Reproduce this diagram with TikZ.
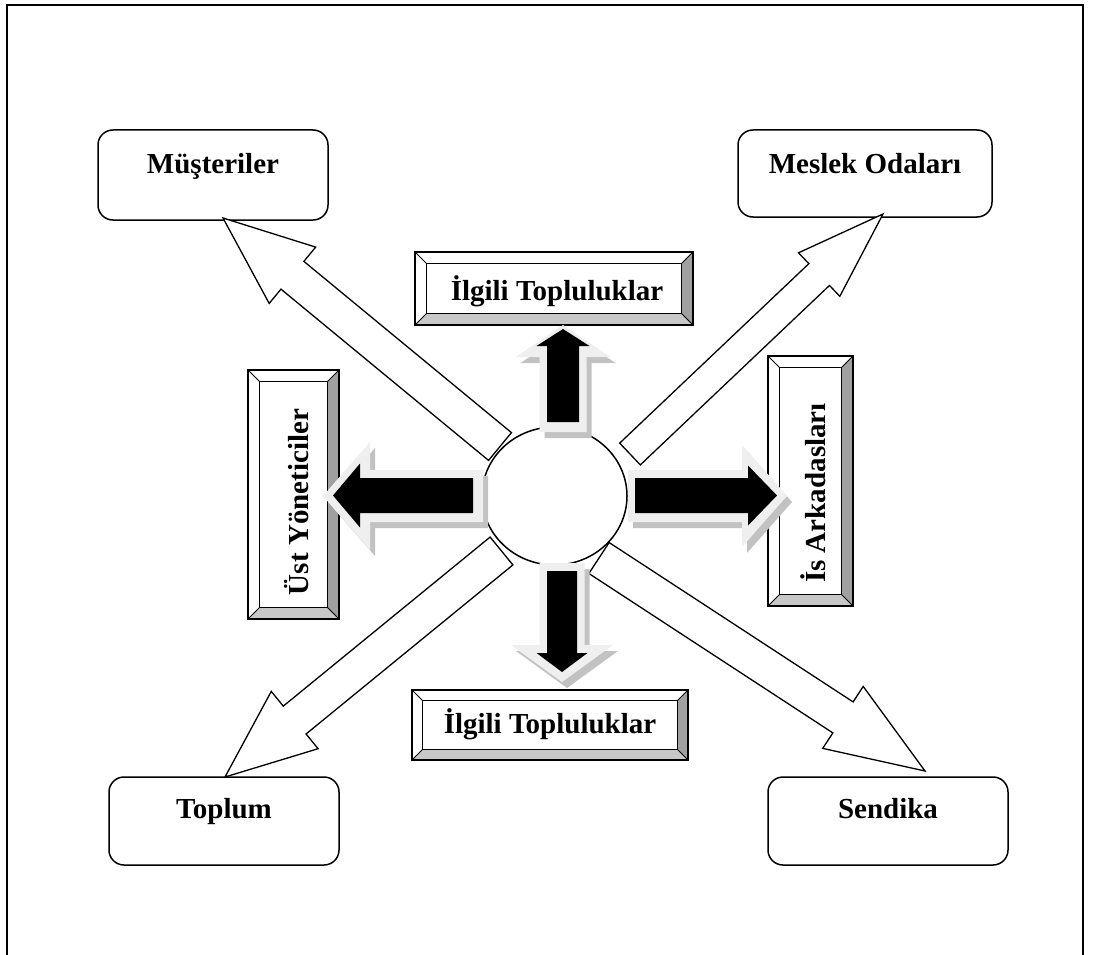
\documentclass[tikz,border=0pt]{standalone}
\usepackage{fontspec}
\setmainfont{Liberation Serif}
\usetikzlibrary{calc,shapes.geometric}

\definecolor{glow}{HTML}{EFEFEF}
\definecolor{shade}{HTML}{C2C2C2}
\definecolor{bevdark}{HTML}{A0A0A0}
\definecolor{bevlight}{HTML}{C8C8C8}

% Block arrow: #1 tail centre, #2 tip, #3 shaft half width,
% #4 head half width, #5 head length, #6 path style
\newcommand\blockarrow[6]{%
  \coordinate (ba-h) at ($(#2)!#5!(#1)$);
  \path[#6] ($(#1)!#3!90:(#2)$) -- ($(ba-h)!#3!90:(#2)$) -- ($(ba-h)!#4!90:(#2)$)
    -- (#2) -- ($(ba-h)!#4!-90:(#2)$) -- ($(ba-h)!#3!-90:(#2)$)
    -- ($(#1)!#3!-90:(#2)$) -- cycle;
}

% Shadowed arrow with a pale rim and a black core
% #1 tail, #2 tip (rim); #3 #4 #5 rim sizes; #6 tail, #7 tip (core); #8 #9 core sizes, head length in #5-style via \corehead
\newcommand\shadedarrow[9]{%
  \coordinate (sa-a) at ($(#1)+(5,6)$);
  \coordinate (sa-b) at ($(#2)+(5,6)$);
  \blockarrow{sa-a}{sa-b}{#3}{#4}{#5}{fill=shade}
  \blockarrow{#1}{#2}{#3}{#4}{#5}{fill=glow}
  \blockarrow{#6}{#7}{#8}{#9}{\corehead}{fill=black}
}

% Bevelled frame drawn around an existing rectangular node
\newcommand\bevelframe[2]{%
  \fill[bevdark] (#1.north east) -- (#1.south east) -- ($(#1.south east)+(-#2,-#2)$) -- ($(#1.north east)+(-#2,#2)$) -- cycle;
  \fill[bevlight] (#1.south west) -- (#1.south east) -- ($(#1.south east)+(-#2,-#2)$) -- ($(#1.south west)+(#2,-#2)$) -- cycle;
  \draw[line width=1.5pt] (#1.north west) rectangle (#1.south east);
  \draw[line width=1.2pt] ($(#1.north west)+(#2,#2)$) rectangle ($(#1.south east)+(-#2,-#2)$);
  \draw[line width=1pt] (#1.north west) -- ++(#2,#2) (#1.north east) -- ++(-#2,#2)
    (#1.south west) -- ++(#2,-#2) (#1.south east) -- ++(-#2,-#2);
}

\begin{document}
\begin{tikzpicture}[x=1pt,y=-1pt,
  rbox/.style={draw, line width=1.5pt, rounded corners=15pt, fill=white, inner sep=0pt},
  bevbox/.style={fill=white, inner sep=0pt},
  lbl/.style={font=\fontsize{29}{34}\selectfont\bfseries, inner sep=0pt, anchor=base},
  hollow/.style={draw, line width=1.3pt, fill=white, line join=miter}]

\useasboundingbox (0,0) rectangle (1103,955);

% page frame
\draw[line width=2pt] (7,960) -- (7,5) -- (1083,5) -- (1083,960);

% bevelled boxes
\node[bevbox, minimum width=278pt, minimum height=73pt] (ilgT) at (554,288.5) {};
\node[bevbox, minimum width=276pt, minimum height=70pt] (ilgB) at (550,725) {};
\node[bevbox, minimum width=91pt, minimum height=249pt] (ust) at (293.5,494.5) {};
\node[bevbox, minimum width=85pt, minimum height=250pt] (isA) at (810.5,481) {};
\bevelframe{ilgT}{12}
\bevelframe{ilgB}{11}
\bevelframe{ust}{12}
\bevelframe{isA}{12}

\node[lbl] (tIlgT) at (557,300) {İlgili Topluluklar};
\node[lbl] (tIlgB) at (550,733) {İlgili Topluluklar};
\node[lbl, rotate=90] (tUst) at (308,502) {Üst Yöneticiler};
\node[lbl, rotate=90] (tIsA) at (825,493) {İs Arkadasları};

% rounded boxes
\node[rbox, minimum width=230pt, minimum height=90pt] (mus) at (213,175) {};
\node[rbox, minimum width=254pt, minimum height=87pt] (mes) at (865,173.5) {};
\node[rbox, minimum width=230pt, minimum height=88pt] (top) at (224,821) {};
\node[rbox, minimum width=240pt, minimum height=88pt] (sen) at (888,821) {};
\node[lbl] (tMus) at (213,173) {Müşteriler};
\node[lbl] (tMes) at (865,173) {Meslek Odaları};
\node[lbl] (tTop) at (224,818) {Toplum};
\node[lbl] (tSen) at (888,818) {Sendika};

% hollow diagonal arrows
\coordinate (ulA) at (500,446.5); \coordinate (ulB) at (223,218);
\coordinate (urA) at (630,454);   \coordinate (urB) at (883,214);
\coordinate (llA) at (501.5,551); \coordinate (llB) at (225,777);
\coordinate (lrA) at (599,558);   \coordinate (lrB) at (925,771);
\blockarrow{ulA}{ulB}{18pt}{36.5pt}{90pt}{hollow}
\blockarrow{urA}{urB}{15pt}{30pt}{88pt}{hollow}
\blockarrow{llA}{llB}{18pt}{37pt}{90pt}{hollow}
\blockarrow{lrA}{lrB}{18.5pt}{37pt}{98pt}{hollow}

% centre
\node[draw, ellipse, line width=1.5pt, fill=white, minimum width=145pt, minimum height=138pt, inner sep=0pt] (hub) at (554.5,496) {};

% solid arrows with rim and shadow
\coordinate (upA) at (563,432);  \coordinate (upB) at (563,325);
\coordinate (upa) at (563,422);  \coordinate (upb) at (563,329);
\coordinate (dnA) at (562,563);  \coordinate (dnB) at (562,682);
\coordinate (dna) at (562,571);  \coordinate (dnb) at (562,672);
\coordinate (lfA) at (483,496);  \coordinate (lfB) at (323,496);
\coordinate (lfa) at (473,495.5);\coordinate (lfb) at (333,495.5);
\coordinate (rtA) at (628,496);  \coordinate (rtB) at (787,496);
\coordinate (rta) at (635,495.5);\coordinate (rtb) at (777,495.5);

\def\corehead{17pt}
\shadedarrow{upA}{upB}{23.5pt}{47.5pt}{32pt}{upa}{upb}{16pt}{26.5pt}
\def\corehead{19pt}
\shadedarrow{dnA}{dnB}{22.5pt}{51pt}{37pt}{dna}{dnb}{15pt}{25.5pt}
\def\corehead{27pt}
\shadedarrow{lfA}{lfB}{26pt}{54pt}{47pt}{lfa}{lfb}{17.5pt}{32pt}
\def\corehead{29pt}
\shadedarrow{rtA}{rtB}{26pt}{51pt}{45pt}{rta}{rtb}{17.5pt}{30pt}

\end{tikzpicture}
\end{document}
